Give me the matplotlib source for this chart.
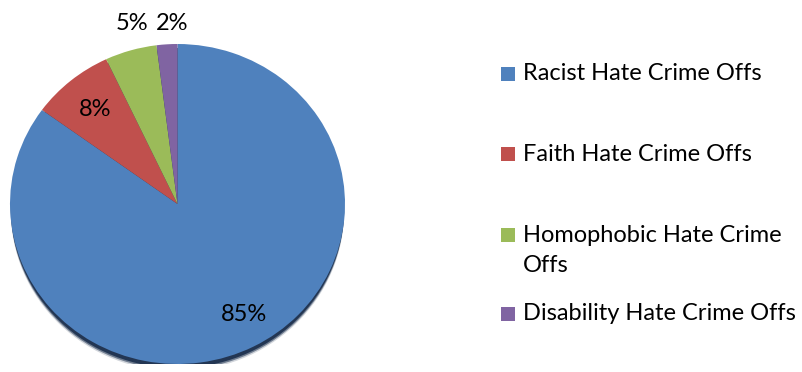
import numpy as np
import matplotlib
matplotlib.use("Agg")
import matplotlib.pyplot as plt
from matplotlib.patches import Ellipse, Rectangle

# Share of hate crime offences by category (percent)
categories = [
    "Racist Hate Crime Offs",
    "Faith Hate Crime Offs",
    "Homophobic Hate Crime\nOffs",
    "Disability Hate Crime Offs",
]
shares = [85, 8, 5, 2]
colors = ["#4F81BD", "#C0504D", "#9BBB59", "#8064A2"]

plt.rcParams["font.family"] = ["Lato", "DejaVu Sans"]

W, H = 802, 372
fig = plt.figure(figsize=(W / 100, H / 100), dpi=100)
fig.patch.set_facecolor("white")

# Pie area (slightly elliptical, as in the original sheet chart)
ax = fig.add_axes([10 / W, 8 / H, 335 / W, 320 / H])

# soft drop shadow under the pie
for dy, a in [(0.045, 0.2), (0.035, 0.55), (0.025, 0.95)]:
    ax.add_patch(Ellipse((0, -dy), 1.99, 2.0, facecolor="#1f3350",
                         edgecolor="none", alpha=a, zorder=0))

wedges, _ = ax.pie(shares, colors=colors, startangle=90, counterclock=False,
                   radius=1.0, wedgeprops=dict(linewidth=0, zorder=2))

# percentage labels placed along each wedge's mid angle
label_dist = [0.80, 0.77, 1.16, 1.13]
angle_nudge = [3, 0, -2.7, -1.9]
for w, s, d, nud in zip(wedges, shares, label_dist, angle_nudge):
    mid = np.deg2rad((w.theta1 + w.theta2) / 2 + nud)
    ax.text(d * np.cos(mid), d * np.sin(mid), f"{s}%", ha="center",
            va="center", fontsize=17, color="black", zorder=5)

ax.set_aspect("auto")
ax.set_xlim(-1, 1)
ax.set_ylim(-1, 1)
ax.axis("off")

# Legend drawn as colored squares with labels
legend_y = [74, 154, 250.5, 314]
for lab, col, y in zip(categories, colors, legend_y):
    first_line_y = y - 15.5 if "\n" in lab else y
    fig.add_artist(Rectangle((501 / W, 1 - (first_line_y + 7) / H), 14 / W, 14 / H,
                             transform=fig.transFigure, facecolor=col,
                             edgecolor="none"))
    fig.text(523 / W, 1 - y / H, lab, ha="left", va="center",
             fontsize=17, color="black", linespacing=1.51)

fig.savefig("out.png", dpi=100, facecolor="white")
